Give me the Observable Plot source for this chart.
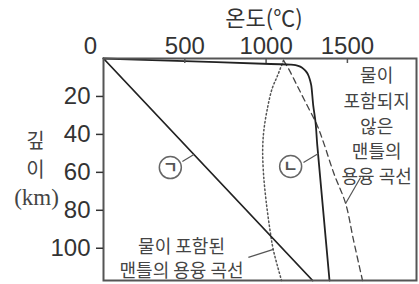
<!DOCTYPE html>
<html><head><meta charset="utf-8">
<script src="https://cdn.jsdelivr.net/npm/d3@7"></script>
<script src="https://cdn.jsdelivr.net/npm/@observablehq/plot@0.6"></script>
<style>body{margin:0;background:#fff} svg{display:block}</style>
</head><body><div id="chart"></div>
<script>
// axis ticks
const xTicks = [500, 1000, 1500];
const xZero = [0];
const yTicks = [20, 40, 60, 80, 100];
// [temperature °C, depth km]
const lineA = [[0, 0], [1286, 117]];                       // ㉠
const lineB = [[0, 0], [500, 1.4], [1027, 2.9], [1150, 3.2], [1181, 3.5], [1210, 4.3], [1230, 5.5],
  [1250, 7.3], [1261, 9.1], [1272, 12], [1278, 14.3], [1290, 24.8], [1304, 33.6], [1315, 45.9],
  [1351, 80], [1390, 117]];                                 // ㉡
const wetSolidus = [[1107, 1.0], [1070, 9.1], [1037, 15.9], [1009, 25.9], [986, 38], [979, 48],
  [984, 60.6], [1000, 75], [1027, 92.2], [1045, 101.1], [1095, 117]];
const drySolidus = [[1107, 1.0], [1138, 5.4], [1191, 14.3], [1253, 24.8], [1315, 35.4], [1353, 44.2],
  [1417, 60.6], [1489, 76.4], [1538, 95.9], [1593, 117]];
// annotations
const markLabels = ["ㄱ", "ㄴ"];
const markPos = [[411, 57.5], [1151, 56.9]];
const markLeaders = [[485, 54.3, 556, 50.6], [1230, 54.8, 1322, 50.1]];
const dryText = ["물이\n포함되지\n않은\n맨틀의\n용융 곡선"];
const dryTextPos = [1680, 34.8];
const dryLeader = [1581, 62.7, 1489, 76.4];
const wetText = ["물이 포함된\n맨틀의 용융 곡선"];
const wetTextPos = [480, 104.8];
const wetLeader = [891, 104.8, 1045, 100.6];
const xTitle = "온도(℃)";
const yTitle = ["깊", "이", "(km)"];

const KR = "'Noto Sans CJK KR', sans-serif";
const NUM = "'Liberation Sans', Arial, sans-serif";

const leaders = [...markLeaders, dryLeader, wetLeader];

const chart = Plot.plot({
  width: 419, height: 284,
  marginLeft: 103, marginRight: 3, marginTop: 58, marginBottom: 4,
  x: {domain: [0, 1925]},
  y: {domain: [0, 117], reverse: true},
  marks: [
    Plot.line(wetSolidus, {x: d => d[0], y: d => d[1], curve: "catmull-rom", stroke: "#555", strokeWidth: 1.5, strokeDasharray: "1.5,2.5"}),
    Plot.line(drySolidus, {x: d => d[0], y: d => d[1], curve: "catmull-rom", stroke: "#444", strokeWidth: 1.3, strokeDasharray: "6,4"}),
    Plot.line(lineA, {x: d => d[0], y: d => d[1], stroke: "#222", strokeWidth: 1.8}),
    Plot.line(lineB, {x: d => d[0], y: d => d[1], curve: "catmull-rom", stroke: "#222", strokeWidth: 1.8}),
    Plot.link(leaders, {x1: d => d[0], y1: d => d[1], x2: d => d[2], y2: d => d[3], stroke: "#555", strokeWidth: 1.2}),
    Plot.dot(markPos, {x: d => d[0], y: d => d[1], r: 11, stroke: "#666", strokeWidth: 1.5, fill: "white"}),
    Plot.text(markPos, {x: d => d[0], y: d => d[1], text: (d, i) => markLabels[i], fontSize: 16, fontWeight: "bold", fill: "#555", fontFamily: KR, lineAnchor: "middle"}),
    Plot.text(dryText, {x: () => dryTextPos[0], y: () => dryTextPos[1], text: d => d, fontSize: 18, lineHeight: 1.39, fill: "#444", fontFamily: KR, lineAnchor: "middle"}),
    Plot.text(wetText, {x: () => wetTextPos[0], y: () => wetTextPos[1], text: d => d, fontSize: 18, lineHeight: 1.33, fill: "#444", fontFamily: KR, lineAnchor: "middle"}),
    Plot.frame({stroke: "#555", strokeWidth: 2}),
    Plot.tickX(xTicks, {x: d => d, insetBottom: 217, stroke: "#555", strokeWidth: 1.5}),
    Plot.axisX(xTicks, {anchor: "top", tickSize: 0, tickPadding: 5, fontSize: 24, fontFamily: NUM, color: "#333", label: null, tickFormat: d => String(d)}),
    Plot.text(xZero, {x: d => d, text: d => String(d), frameAnchor: "top", dy: -5, dx: -13, lineAnchor: "bottom", fontSize: 24, fontFamily: NUM, fill: "#333"}),
    Plot.axisY(yTicks, {anchor: "left", tickSize: 7, tickPadding: 6, fontSize: 24, fontFamily: NUM, color: "#333", strokeWidth: 1.5, label: null, tickFormat: d => String(d)}),
    Plot.text([xTitle], {frameAnchor: "top", dy: -40, dx: 4, lineAnchor: "middle", textAnchor: "middle", fontSize: 22, fontFamily: KR, fill: "#333", text: d => d}),
    Plot.text([yTitle[0]], {frameAnchor: "left", dx: -68, dy: -28, lineAnchor: "middle", textAnchor: "middle", fontSize: 20, fontFamily: KR, fill: "#444", text: d => d}),
    Plot.text([yTitle[1]], {frameAnchor: "left", dx: -68, dy: 1, lineAnchor: "middle", textAnchor: "middle", fontSize: 20, fontFamily: KR, fill: "#444", text: d => d}),
    Plot.text([yTitle[2]], {frameAnchor: "left", dx: -67, dy: 28, lineAnchor: "middle", textAnchor: "middle", fontSize: 23, fontFamily: "'Liberation Serif', serif", fill: "#444", text: d => d})
  ]
});
document.getElementById("chart").append(chart);
</script>
</body></html>
